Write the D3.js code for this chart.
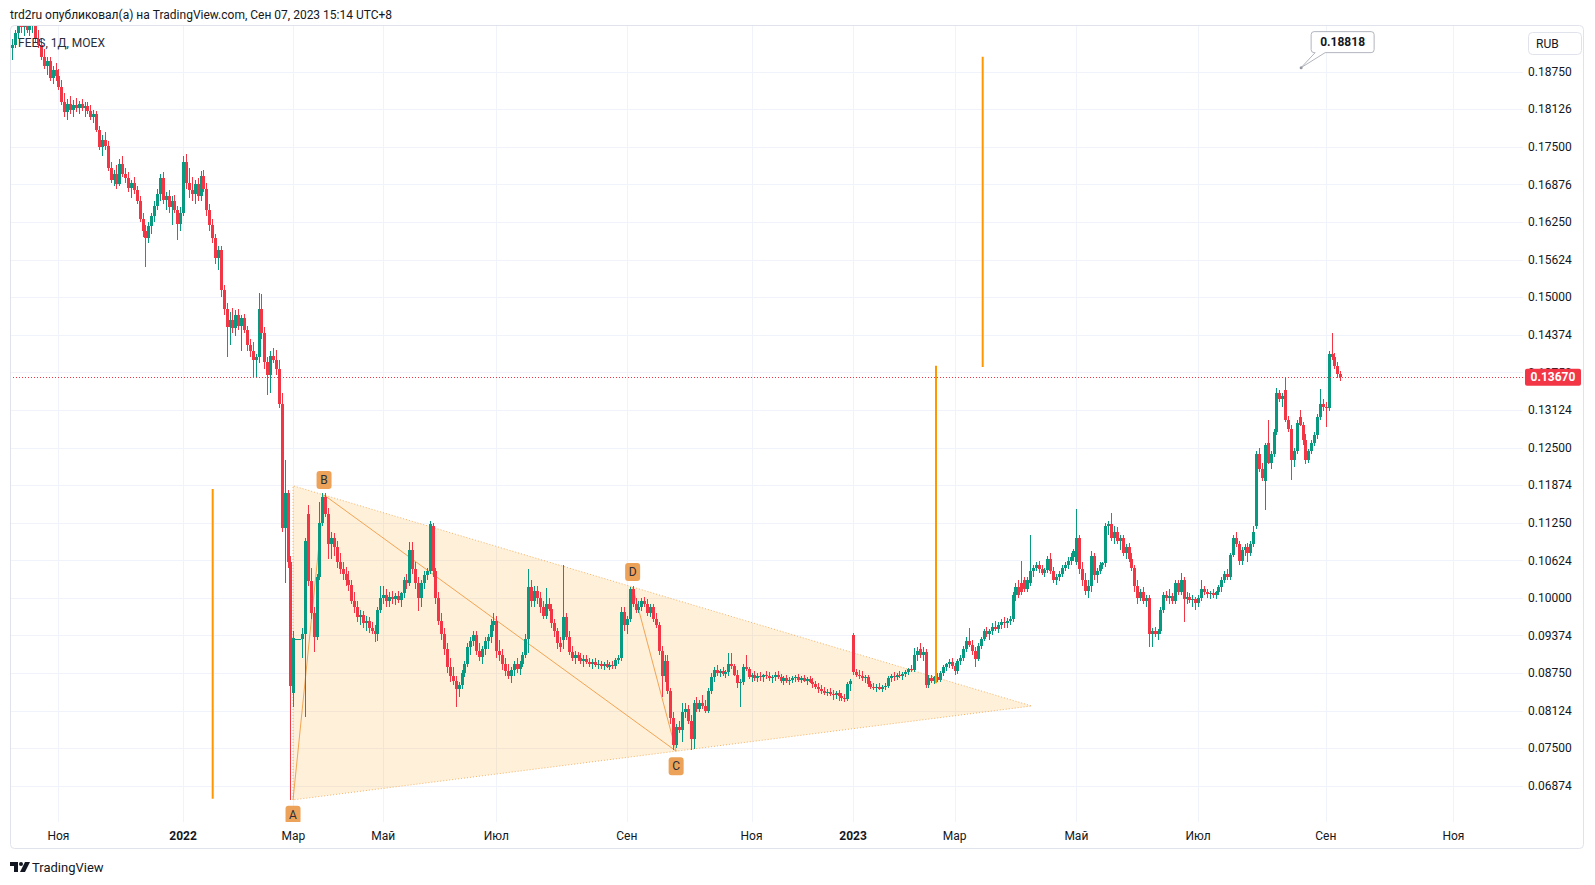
<!DOCTYPE html>
<html>
<head>
<meta charset="utf-8">
<script src="https://cdn.jsdelivr.net/npm/d3@7"></script>
<style>
  body { margin: 0; background: #fff; }
  text { font-family: Roboto, "Noto Sans", sans-serif; fill: #131722; }
</style>
</head>
<body>
<svg id="chart" width="1595" height="885"></svg>
<script>
// Daily candles, [open, high, low, close] in 1/10000 RUB
const bars2021 = [
  [1915,1930,1895,1920],[1920,1945,1915,1940],[1940,1960,1930,1955],[1955,1965,1940,1950],[1950,1962,1935,1958],
  [1958,1966,1940,1945],[1945,1960,1935,1952],[1952,1968,1940,1960],[1960,1968,1925,1930],[1930,1945,1915,1920],
  [1920,1930,1895,1900],[1900,1912,1880,1885],[1885,1900,1870,1893],[1893,1900,1860,1865],[1865,1885,1855,1878],
  [1878,1890,1860,1868],[1868,1880,1845,1850],[1850,1862,1820,1825],[1825,1840,1800,1808],[1808,1830,1795,1822],
  [1822,1835,1805,1812],[1812,1828,1800,1820],[1820,1832,1808,1815],[1815,1826,1805,1822],[1822,1830,1810,1814],
  [1814,1825,1800,1818],[1818,1824,1805,1810],[1810,1820,1795,1800],[1800,1812,1790,1805],[1805,1810,1775,1778],
  [1778,1785,1745,1750],[1750,1770,1735,1762],[1762,1775,1745,1752],[1752,1760,1710,1715],[1715,1725,1690,1695],
  [1695,1712,1685,1705],[1705,1720,1680,1688],[1688,1730,1685,1722],[1722,1735,1700,1705],[1705,1715,1690,1698],
  [1698,1708,1675,1682],[1682,1695,1665,1690],[1690,1700,1672,1678],[1678,1685,1655,1660],[1660,1668,1625,1630],
  [1630,1640,1600,1610],[1610,1620,1550,1598],[1598,1625,1590,1618],[1618,1640,1605,1635],[1635,1660,1625,1652],
  [1652,1680,1645,1672],[1672,1705,1660,1698],[1698,1708,1655,1662],[1662,1675,1645,1668],[1668,1678,1640,1650],
  [1650,1668,1620,1660],[1660,1670,1640,1645],[1645,1652,1595,1622],[1622,1650,1610,1640]
];
const bars2022 = [
  [1640,1735,1635,1725],[1725,1738,1680,1690],[1690,1715,1665,1678],[1678,1700,1660,1672],[1672,1695,1655,1688],
  [1688,1698,1660,1668],[1668,1710,1660,1702],[1702,1712,1675,1680],[1680,1690,1635,1645],[1645,1655,1610,1620],
  [1620,1630,1590,1598],[1598,1605,1555,1565],[1565,1585,1545,1578],[1578,1585,1500,1512],[1512,1520,1470,1480],
  [1480,1490,1400,1450],[1450,1475,1420,1462],[1462,1482,1440,1448],[1448,1478,1435,1470],[1470,1480,1445,1452],
  [1452,1470,1410,1465],[1465,1472,1440,1445],[1445,1452,1410,1420],[1420,1430,1400,1410],[1410,1425,1365,1395],
  [1395,1405,1368,1400],[1400,1507,1390,1480],[1480,1505,1430,1440],[1440,1450,1380,1392],[1392,1400,1337,1370],
  [1370,1410,1340,1402],[1402,1415,1390,1396],[1396,1412,1370,1380],[1380,1395,1315,1322],[1322,1340,1110,1116],
  [1116,1230,1025,1175],[1175,1180,1050,1060],[1060,1070,664,853],[842,945,818,933],[931,931,931,931],
  [931,931,931,931],[931,950,900,940],[940,1100,802,1095],[1140,1155,1020,1028],[1028,1050,965,975],
  [975,985,910,935],[935,1040,930,1035],[1035,1160,1030,1125],[1125,1175,1120,1168],[1168,1174,1135,1140],
  [1140,1150,1065,1090],[1090,1110,1065,1100],[1100,1108,1070,1085],[1085,1095,1050,1060],[1060,1075,1040,1048],
  [1048,1060,1030,1040],[1040,1052,1020,1030],[1030,1045,1012,1022],[1022,1030,990,995],[995,1010,975,985],
  [985,995,960,968],[968,980,955,972],[972,978,950,958],[958,970,945,962],[962,968,942,950],
  [950,960,940,945],[945,955,927,940],[940,985,928,980],[980,1020,975,1000],[1000,1020,990,1005],
  [1005,1015,985,995],[995,1010,985,1002],[1002,1012,990,998],[998,1008,988,1003],[1003,1012,992,996],
  [996,1010,985,1008],[1008,1035,1000,1030],[1030,1040,1015,1025],[1025,1093,1020,1080],[1080,1093,1040,1048],
  [1048,1060,1015,1025],[1025,1035,978,1000],[1000,1030,985,1025],[1025,1045,1015,1038],[1038,1050,1030,1045],
  [1045,1128,1040,1123],[1120,1125,1035,1045],[1045,1050,990,1000],[1000,1010,955,962],[962,975,930,940],
  [940,950,905,915],[915,925,875,885],[885,900,860,870],[870,885,855,862],[862,870,818,848],
  [848,860,835,855],[855,880,848,875],[875,895,868,890],[890,925,885,918],[918,935,905,928],
  [928,945,920,938],[938,945,905,912],[912,925,895,902],[902,920,890,915],[915,935,905,928],
  [928,940,915,935],[935,965,925,955],[955,975,945,962],[962,970,900,912],[912,930,895,905],
  [905,915,880,890],[890,900,870,878],[878,890,865,870],[870,885,858,880],[880,895,870,890],
  [890,900,875,882],[882,895,872,890],[890,910,885,905],[905,940,900,932],[932,1048,908,1018],
  [1018,1030,985,995],[995,1020,985,1012],[1012,1020,990,1000],[1000,1010,975,985],[985,995,965,970],
  [970,1016,965,990],[990,1000,978,982],[982,990,950,958],[958,965,935,945],[945,950,915,925],
  [925,935,910,918],[930,1054,915,968],[968,975,930,935],[935,945,905,910],[910,920,895,900],
  [900,912,890,905],[905,910,895,900],[900,908,890,895],[895,905,885,898],[898,905,890,893],
  [893,900,885,890],[890,898,882,894],[894,900,885,889],[889,896,882,890],[890,895,882,886],
  [886,894,880,890],[890,896,883,885],[885,893,880,888],[888,895,882,887],[887,900,882,897],
  [897,905,890,900],[900,985,895,976],[976,985,945,955],[955,970,940,965],[965,1018,960,1015],
  [1015,1020,985,990],[990,1000,975,980],[980,995,975,985],[985,1000,978,995],[995,1002,985,990],
  [990,998,970,975],[975,990,968,985],[985,990,960,965],[965,975,950,955],[955,960,905,912],
  [912,920,835,870],[870,905,860,895],[895,905,840,845],[845,850,790,800],[800,810,747,755],
  [755,790,750,785],[785,795,775,780],[780,825,760,810],[810,825,800,815],[815,822,790,795],
  [795,805,747,765],[765,830,748,825],[825,835,810,815],[815,830,810,825],[825,838,815,820],
  [820,830,808,812],[812,850,808,845],[845,875,840,868],[868,885,860,880],[880,888,870,875],
  [875,882,868,878],[878,885,870,873],[873,880,866,876],[876,908,870,890],[890,908,882,886],
  [886,890,870,872],[872,880,850,858],[858,865,818,860],[860,890,855,885],[885,905,878,882],
  [882,885,865,868],[868,875,860,872],[872,878,862,866],[866,875,860,870],[870,876,862,868],
  [868,874,860,872],[872,878,865,870],[870,877,862,866],[866,872,858,868],[868,876,862,872],
  [872,878,865,868],[868,874,858,862],[862,870,855,866],[866,872,858,862],[862,868,855,864],
  [864,870,858,866],[866,872,860,868],[868,873,860,864],[864,870,858,866],[866,871,860,862],
  [862,868,855,865],[865,870,858,860],[860,866,850,856],[856,862,848,852],[852,858,842,848],
  [848,855,840,845],[845,852,838,842],[842,848,836,844],[844,850,836,840],[840,847,830,838],
  [838,845,832,841],[841,846,828,836],[836,842,828,834],[834,840,826,832],[832,860,828,857],
  [857,865,845,862]
];
const bars2023 = [
  [938,942,872,877],[877,882,868,872],[872,880,865,870],[870,878,862,866],[866,872,858,868],
  [868,872,852,856],[856,862,848,852],[852,858,846,850],[850,856,844,852],[852,858,846,849],
  [849,855,844,852],[852,858,846,854],[854,870,850,866],[866,874,860,870],[870,876,862,868],
  [868,875,864,872],[872,878,866,870],[870,876,864,874],[874,880,868,877],[877,884,872,882],
  [882,888,876,880],[880,916,876,905],[905,918,895,912],[915,925,900,905],[905,918,895,910],
  [910,915,850,855],[855,872,850,866],[866,872,858,862],[862,870,856,868],[868,875,860,864],
  [864,878,860,875],[875,888,870,885],[885,892,878,890],[890,898,884,894],[894,900,882,886],
  [886,892,872,878],[878,898,874,895],[895,905,888,900],[900,920,895,915],[915,935,910,928],
  [928,950,918,922],[922,930,905,912],[912,918,885,898],[898,925,895,920],[920,935,915,932],
  [932,948,928,945],[945,952,935,940],[940,948,930,945],[945,958,938,952],[952,962,945,948],
  [948,960,942,955],[955,965,948,960],[960,968,950,958],[958,966,950,962],[962,970,955,965],
  [965,1010,960,1005],[1005,1025,995,1018],[1018,1030,1000,1005],[1025,1062,1005,1010],[1030,1035,1010,1015],
  [1015,1035,1010,1030],[1025,1105,1020,1045],[1045,1055,1035,1050],[1050,1060,1045,1055],[1055,1062,1042,1048],
  [1048,1055,1038,1042],[1042,1050,1035,1046],[1046,1070,1042,1065],[1065,1075,1040,1045],[1045,1052,1025,1030],
  [1030,1040,1022,1035],[1035,1045,1028,1040],[1040,1055,1035,1050],[1050,1060,1045,1055],[1055,1068,1048,1062],
  [1062,1075,1055,1068],[1068,1082,1062,1078],[1060,1148,1055,1100],[1100,1105,1040,1048],[1048,1060,1020,1030],
  [1030,1042,1005,1012],[1012,1030,1000,1020],[1020,1078,1010,1070],[1070,1075,1030,1038],[1038,1050,1025,1045],
  [1045,1060,1040,1055],[1055,1060,1048,1058],[1058,1125,1052,1120],[1120,1128,1105,1122],[1122,1141,1095,1100],
  [1100,1120,1090,1110],[1110,1118,1090,1095],[1095,1105,1080,1100],[1100,1105,1070,1075],[1075,1090,1065,1085],
  [1085,1092,1060,1065],[1065,1075,1045,1050],[1050,1055,1010,1020],[1020,1030,990,1000],[1000,1015,995,1010],
  [1010,1018,990,995],[995,1005,985,1000],[1000,1005,918,940],[940,950,918,945],[945,952,935,940],
  [940,948,930,945],[945,985,940,980],[980,1010,975,1005],[1005,1012,995,1000],[1000,1015,990,1003],
  [1003,1008,990,995],[995,1030,990,1025],[1025,1030,1005,1010],[1010,1041,1005,1030],[1030,1035,960,998],
  [998,1010,990,1002],[1002,1008,992,996],[996,1005,985,998],[998,1002,980,992],[992,1005,985,1000],
  [1000,1030,995,1015],[1015,1020,1005,1010],[1010,1015,1000,1006],[1006,1012,998,1008],[1008,1015,1000,1005],
  [1005,1012,998,1010],[1010,1022,1005,1018],[1018,1035,1010,1030],[1030,1045,1025,1040],[1040,1048,1030,1035],
  [1035,1075,1030,1072],[1072,1105,1068,1100],[1100,1110,1085,1090],[1090,1095,1055,1062],[1062,1085,1055,1080],
  [1080,1090,1070,1085],[1085,1092,1060,1075],[1075,1095,1070,1090],[1090,1120,1085,1110],[1120,1245,1115,1240],
  [1240,1250,1210,1215],[1215,1225,1195,1200],[1195,1258,1146,1255],[1258,1296,1222,1225],[1225,1245,1215,1240],
  [1240,1280,1235,1275],[1275,1349,1270,1340],[1340,1345,1325,1330],[1330,1340,1318,1335],[1345,1368,1292,1296],
  [1296,1302,1275,1280],[1280,1288,1196,1229],[1229,1250,1218,1245],[1245,1295,1240,1290],[1300,1312,1285,1288],
  [1288,1292,1255,1262],[1262,1272,1222,1230],[1230,1248,1225,1245],[1245,1262,1240,1258],[1258,1275,1252,1270],
  [1270,1305,1265,1300],[1300,1348,1295,1323],[1323,1330,1310,1318],[1318,1325,1284,1315],[1315,1410,1310,1405],
  [1405,1440,1395,1400],[1400,1408,1380,1385],[1385,1392,1365,1372],[1372,1378,1360,1367]
];

// time axis: label and bar index of the first bar of the month
const monthLabels = ["Ноя", "2022", "Мар", "Май", "Июл", "Сен", "Ноя", "2023", "Мар", "Май", "Июл", "Сен", "Ноя"];
const monthBars = [16, 59, 97, 128, 167, 212, 255, 290, 325, 367, 409, 453, 497];

// price axis ticks
const priceTicks = [0.1875, 0.18126, 0.175, 0.16876, 0.1625, 0.15624, 0.15, 0.14374, 0.1375, 0.13124,
  0.125, 0.11874, 0.1125, 0.10624, 0.1, 0.09374, 0.0875, 0.08124, 0.075, 0.06874];

// triangle pattern points A, B, C, D (bar index, price)
const patternNames = ["A", "B", "C", "D"];
const patternBars = [96.9, 107.6, 229, 214];
const patternPrices = [0.0664, 0.1171, 0.0745, 0.1018];

// vertical projection lines (bar index, from price, to price)
const rangeBars = [69.2, 318.6, 334.7];
const rangeFrom = [0.0666, 0.0858, 0.1384];
const rangeTo = [0.1181, 0.1386, 0.1900];

const noteBar = 444.5, notePrice = 0.18818;
const lastPrice = 0.1367;

const bars = bars2021.concat(bars2022, bars2023);
const upColor = "#089981", downColor = "#f23645", gridColor = "#f0f3fa";

const svg = d3.select("#chart");
const pane = { left: 10, right: 1523, top: 25, bottom: 822 };

var x = d3.scaleLinear().domain([0, 521]).range([12, 1523]);
var y = d3.scaleLinear().domain([0.06272, 0.19577]).range([822, 22]);
var fmt = d3.format(".5f");

svg.append("defs").append("clipPath").attr("id", "pane")
  .append("rect")
  .attr("x", pane.left).attr("y", pane.top)
  .attr("width", pane.right - pane.left).attr("height", pane.bottom - pane.top);

// header
svg.append("text")
  .attr("x", 10).attr("y", 18.5)
  .style("font-size", "12px")
  .text("trd2ru опубликовал(а) на TradingView.com, Сен 07, 2023 15:14 UTC+8");

// grid
var grid = svg.append("g");
grid.selectAll(".hg").data(priceTicks).enter().append("line")
  .attr("x1", pane.left).attr("x2", pane.right)
  .attr("y1", d => Math.round(y(d)) + 0.5).attr("y2", d => Math.round(y(d)) + 0.5)
  .attr("stroke", gridColor);
grid.selectAll(".vg").data(monthBars).enter().append("line")
  .attr("x1", d => Math.round(x(d)) + 0.5).attr("x2", d => Math.round(x(d)) + 0.5)
  .attr("y1", pane.top).attr("y2", pane.bottom)
  .attr("stroke", gridColor);

var plot = svg.append("g").attr("clip-path", "url(#pane)");

// triangle pattern
var pts = patternBars.map((b, i) => [x(b), y(patternPrices[i])]);
var A = pts[0], B = pts[1], C = pts[2], D = pts[3];
var sAC = (C[1] - A[1]) / (C[0] - A[0]);
var sBD = (D[1] - B[1]) / (D[0] - B[0]);
var topLeft = [A[0], B[1] + sBD * (A[0] - B[0])];
var apexX = (topLeft[1] - A[1]) / (sAC - sBD) + A[0];
var apex = [apexX, A[1] + sAC * (apexX - A[0])];

plot.append("path")
  .attr("d", d3.line()([A, topLeft, apex]) + "Z")
  .attr("fill", "rgba(255,152,0,0.15)")
  .attr("stroke", "rgba(245,150,40,0.7)")
  .attr("stroke-dasharray", "1,2");

plot.append("path")
  .attr("d", d3.line()([A, B, C, D]))
  .attr("fill", "none")
  .attr("stroke", "rgba(240,150,60,0.85)")
  .attr("stroke-width", 1);

// candles
var candle = plot.selectAll(".candle").data(bars).enter().append("g")
  .attr("shape-rendering", "crispEdges");
candle.append("rect")
  .attr("x", (d, i) => Math.round(x(i)))
  .attr("width", 1)
  .attr("y", d => y(Math.max(d[1], d[0], d[3]) / 1e4))
  .attr("height", d => y(Math.min(d[2], d[0], d[3]) / 1e4) - y(Math.max(d[1], d[0], d[3]) / 1e4))
  .attr("fill", d => d[3] >= d[0] ? upColor : downColor);
candle.append("rect")
  .attr("x", (d, i) => Math.round(x(i)) - 1)
  .attr("width", 3)
  .attr("y", d => y(Math.max(d[0], d[3]) / 1e4))
  .attr("height", d => Math.max(1, y(Math.min(d[0], d[3]) / 1e4) - y(Math.max(d[0], d[3]) / 1e4)))
  .attr("fill", d => d[3] >= d[0] ? upColor : downColor);

// projection lines
plot.selectAll(".range").data(rangeBars).enter().append("line")
  .attr("x1", d => x(d)).attr("x2", d => x(d))
  .attr("y1", (d, i) => y(rangeFrom[i])).attr("y2", (d, i) => y(rangeTo[i]))
  .attr("stroke", "#ff9800").attr("stroke-width", 2);

// pattern labels
var lab = plot.selectAll(".plab").data(patternNames).enter().append("g")
  .attr("transform", (d, i) => {
    var off = (d === "A" || d === "C") ? 15 : -15;
    return "translate(" + pts[i][0] + "," + (pts[i][1] + off) + ")";
  });
lab.append("rect")
  .attr("x", -7.5).attr("y", -9).attr("width", 15).attr("height", 18).attr("rx", 3)
  .attr("fill", "#eda25a");
lab.append("text")
  .attr("text-anchor", "middle").attr("dy", "0.35em")
  .style("font-size", "12px").style("fill", "#2a2e39")
  .text(d => d);

// last price line
plot.append("line")
  .attr("x1", pane.left).attr("x2", pane.right)
  .attr("y1", Math.round(y(lastPrice)) + 0.5).attr("y2", Math.round(y(lastPrice)) + 0.5)
  .attr("stroke", downColor).attr("stroke-dasharray", "1,2");

// legend
svg.append("text")
  .attr("x", 18).attr("y", 43).attr("dy", "0.35em")
  .style("font-size", "12px").style("fill", "#2a2e39")
  .text("FEES, 1Д, MOEX");

// price note callout
var np = [x(noteBar), y(notePrice)];
var note = svg.append("g");
var bx = np[0] + 10, by = np[1] - 36, bw = 63, bh = 21;
note.append("path")
  .attr("d", "M" + (bx + 3) + "," + by + " H" + (bx + bw - 3) + " Q" + (bx + bw) + "," + by + " " + (bx + bw) + "," + (by + 3) +
    " V" + (by + bh - 3) + " Q" + (bx + bw) + "," + (by + bh) + " " + (bx + bw - 3) + "," + (by + bh) +
    " H" + (bx + 14) + " L" + np[0] + "," + np[1] + " L" + (bx + 4) + "," + (by + bh) +
    " H" + (bx + 3) + " Q" + bx + "," + (by + bh) + " " + bx + "," + (by + bh - 3) +
    " V" + (by + 3) + " Q" + bx + "," + by + " " + (bx + 3) + "," + by + "Z")
  .attr("fill", "#fff").attr("stroke", "#b2b5be");
note.append("circle").attr("cx", np[0]).attr("cy", np[1]).attr("r", 1.5).attr("fill", "#9598a1");
note.append("text")
  .attr("x", bx + bw / 2).attr("y", by + bh / 2).attr("dy", "0.35em")
  .attr("text-anchor", "middle")
  .style("font-size", "12px").style("font-weight", "bold")
  .text(fmt(notePrice));

// price axis labels
svg.append("g").selectAll("text").data(priceTicks).enter().append("text")
  .attr("x", 1528).attr("y", d => y(d)).attr("dy", "0.35em")
  .style("font-size", "12px")
  .text(d => fmt(d));

svg.append("rect")
  .attr("x", 1528.5).attr("y", 32.5).attr("width", 53).attr("height", 22).attr("rx", 4)
  .attr("fill", "#fff").attr("stroke", "#e0e3eb");
svg.append("text")
  .attr("x", 1536).attr("y", 44).attr("dy", "0.35em")
  .style("font-size", "12px")
  .text("RUB");

svg.append("rect")
  .attr("x", 1525).attr("y", y(lastPrice) - 8.5).attr("width", 56).attr("height", 17).attr("rx", 2)
  .attr("fill", downColor);
svg.append("text")
  .attr("x", 1553).attr("y", y(lastPrice)).attr("dy", "0.35em")
  .attr("text-anchor", "middle")
  .style("font-size", "12px").style("font-weight", "bold").style("fill", "#fff")
  .text(fmt(lastPrice));

// time axis labels
svg.append("g").selectAll("text").data(monthLabels).enter().append("text")
  .attr("x", (d, i) => x(monthBars[i])).attr("y", 836).attr("dy", "0.35em")
  .attr("text-anchor", "middle")
  .style("font-size", "12px")
  .style("font-weight", d => /^\d+$/.test(d) ? "bold" : "normal")
  .text(d => d);

// frame
svg.append("rect")
  .attr("x", 10.5).attr("y", 25.5).attr("width", 1573).attr("height", 823).attr("rx", 4)
  .attr("fill", "none").attr("stroke", "#e0e3eb");

// TradingView logo
var logo = svg.append("g").attr("transform", "translate(10,862)");
logo.append("path").attr("d", "M0,0 H8 V10 H4 V4 H0 Z").attr("fill", "#131722");
logo.append("circle").attr("cx", 11).attr("cy", 2).attr("r", 2).attr("fill", "#131722");
logo.append("path").attr("d", "M15,0 H20 L15,10 H10 Z").attr("fill", "#131722");
svg.append("text")
  .attr("x", 32).attr("y", 867).attr("dy", "0.35em")
  .style("font-size", "13px")
  .text("TradingView");
</script>
</body>
</html>
